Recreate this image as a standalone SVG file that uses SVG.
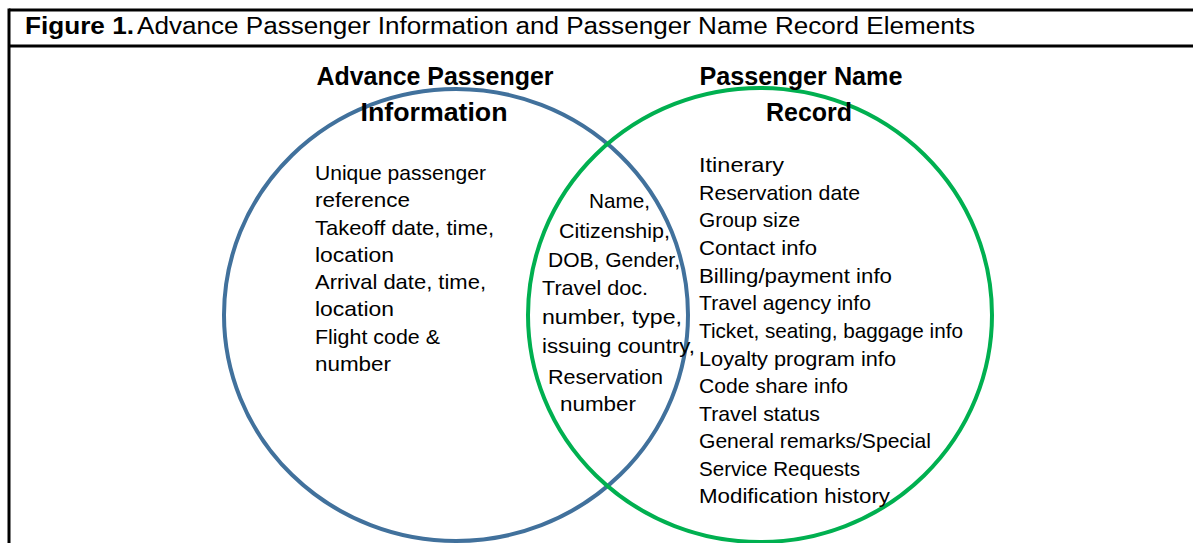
<svg xmlns="http://www.w3.org/2000/svg" width="1193" height="543" viewBox="0 0 1193 543">
  <style>
    .frame { stroke: #000; stroke-width: 3; fill: none; }
    .ring { fill: none; stroke-width: 4; }
    .api-ring { stroke: #41719C; }
    .pnr-ring { stroke: #00B050; }
    text { font-family: "Liberation Sans", Arial, sans-serif; fill: #000; }
    .title { font-size: 23px; }
    .head { font-size: 25px; font-weight: bold; text-anchor: middle; }
    .item { font-size: 21px; }
  </style>
  <rect width="1193" height="543" fill="#fff"/>

  <!-- table frame with caption row -->
  <g id="frame">
    <line class="frame" x1="9" y1="10" x2="1193" y2="10"/>
    <line class="frame" x1="9" y1="46" x2="1193" y2="46"/>
    <line class="frame" x1="9" y1="8.5" x2="9" y2="543"/>
  </g>

  <g id="title">
    <text class="title" x="25" y="34"><tspan font-weight="bold" textLength="109" lengthAdjust="spacingAndGlyphs">Figure 1.</tspan><tspan x="137" textLength="838" lengthAdjust="spacingAndGlyphs">Advance Passenger Information and Passenger Name Record Elements</tspan></text>
  </g>

  <!-- the two overlapping sets -->
  <g id="api-circle">
    <ellipse class="ring api-ring" cx="456" cy="315" rx="232" ry="226"/>
  </g>
  <g id="pnr-circle">
    <ellipse class="ring pnr-ring" cx="760" cy="315" rx="232" ry="227"/>
  </g>

  <g id="api">
    <text class="head" x="435" y="85" textLength="237" lengthAdjust="spacingAndGlyphs">Advance Passenger</text>
    <text class="head" x="434" y="121" textLength="147" lengthAdjust="spacingAndGlyphs">Information</text>
    <text class="item" x="315" y="180" textLength="171" lengthAdjust="spacingAndGlyphs">Unique passenger</text>
    <text class="item" x="315" y="207" textLength="95" lengthAdjust="spacingAndGlyphs">reference</text>
    <text class="item" x="315" y="235" textLength="179" lengthAdjust="spacingAndGlyphs">Takeoff date, time,</text>
    <text class="item" x="315" y="262" textLength="79" lengthAdjust="spacingAndGlyphs">location</text>
    <text class="item" x="315" y="289" textLength="171" lengthAdjust="spacingAndGlyphs">Arrival date, time,</text>
    <text class="item" x="315" y="316" textLength="79" lengthAdjust="spacingAndGlyphs">location</text>
    <text class="item" x="315" y="344" textLength="125" lengthAdjust="spacingAndGlyphs">Flight code &amp;</text>
    <text class="item" x="315" y="371" textLength="76" lengthAdjust="spacingAndGlyphs">number</text>
  </g>

  <g id="shared">
    <text class="item" x="589" y="208" textLength="61" lengthAdjust="spacingAndGlyphs">Name,</text>
    <text class="item" x="559" y="238" textLength="111" lengthAdjust="spacingAndGlyphs">Citizenship,</text>
    <text class="item" x="548" y="267" textLength="132" lengthAdjust="spacingAndGlyphs">DOB, Gender,</text>
    <text class="item" x="542" y="295" textLength="106" lengthAdjust="spacingAndGlyphs">Travel doc.</text>
    <text class="item" x="542" y="324" textLength="140" lengthAdjust="spacingAndGlyphs">number, type,</text>
    <text class="item" x="542" y="353" textLength="153" lengthAdjust="spacingAndGlyphs">issuing country,</text>
    <text class="item" x="548" y="384" textLength="115" lengthAdjust="spacingAndGlyphs">Reservation</text>
    <text class="item" x="560" y="411" textLength="76" lengthAdjust="spacingAndGlyphs">number</text>
  </g>

  <g id="pnr">
    <text class="head" x="801" y="85" textLength="203" lengthAdjust="spacingAndGlyphs">Passenger Name</text>
    <text class="head" x="809" y="121" textLength="86" lengthAdjust="spacingAndGlyphs">Record</text>
    <text class="item" x="699" y="172" textLength="85" lengthAdjust="spacingAndGlyphs">Itinerary</text>
    <text class="item" x="699" y="200" textLength="161" lengthAdjust="spacingAndGlyphs">Reservation date</text>
    <text class="item" x="699" y="227" textLength="101" lengthAdjust="spacingAndGlyphs">Group size</text>
    <text class="item" x="699" y="255" textLength="118" lengthAdjust="spacingAndGlyphs">Contact info</text>
    <text class="item" x="699" y="283" textLength="193" lengthAdjust="spacingAndGlyphs">Billing/payment info</text>
    <text class="item" x="699" y="310" textLength="172" lengthAdjust="spacingAndGlyphs">Travel agency info</text>
    <text class="item" x="699" y="338" textLength="264" lengthAdjust="spacingAndGlyphs">Ticket, seating, baggage info</text>
    <text class="item" x="699" y="366" textLength="197" lengthAdjust="spacingAndGlyphs">Loyalty program info</text>
    <text class="item" x="699" y="393" textLength="149" lengthAdjust="spacingAndGlyphs">Code share info</text>
    <text class="item" x="699" y="421" textLength="121" lengthAdjust="spacingAndGlyphs">Travel status</text>
    <text class="item" x="699" y="448" textLength="232" lengthAdjust="spacingAndGlyphs">General remarks/Special</text>
    <text class="item" x="699" y="476" textLength="161" lengthAdjust="spacingAndGlyphs">Service Requests</text>
    <text class="item" x="699" y="503" textLength="191" lengthAdjust="spacingAndGlyphs">Modification history</text>
  </g>
</svg>
